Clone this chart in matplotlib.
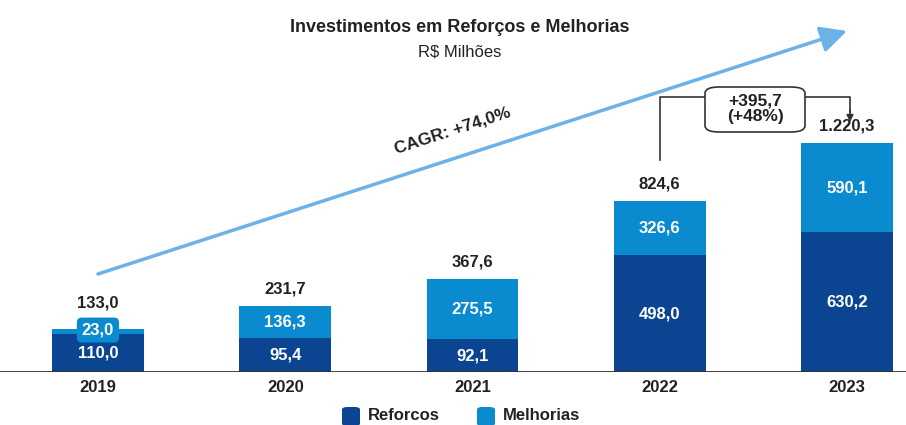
import numpy as np
import matplotlib
matplotlib.use("Agg")
from matplotlib import pyplot as plt
from matplotlib.patches import FancyBboxPatch, FancyArrowPatch

plt.rcParams['font.family'] = ['Liberation Sans', 'DejaVu Sans']

# dados (R$ milhões)
anos = ['2019', '2020', '2021', '2022', '2023']
reforcos = [110.0, 95.4, 92.1, 498.0, 630.2]
melhorias = [23.0, 136.3, 275.5, 326.6, 590.1]
totais = [133.0, 231.7, 367.6, 824.6, 1220.3]
rot_reforcos = ['110,0', '95,4', '92,1', '498,0', '630,2']
rot_melhorias = ['23,0', '136,3', '275,5', '326,6', '590,1']
rot_totais = ['133,0', '231,7', '367,6', '824,6', '1.220,3']
cagr = 'CAGR: +74,0%'
delta = '+395,7\n(+48%)'

COR_REF = '#0b4592'
COR_MEL = '#0a8bcf'
COR_TXT = '#222222'
COR_SETA = '#6cb2e6'

W, H = 906, 425
fig = plt.figure(figsize=(W / 100, H / 100), dpi=100)

def fp(x, y):
    # pixel (a partir do topo) -> fração da figura
    return x / W, 1 - y / H

# escala comprimida (o gráfico original não é linear)
P = 0.75
def fwd(v):
    v = np.asarray(v, dtype=float)
    return np.sign(v) * np.abs(v) ** P
def inv(v):
    v = np.asarray(v, dtype=float)
    return np.sign(v) * np.abs(v) ** (1 / P)

base = 372
ax = fig.add_axes([0, (H - base) / H, 1, base / H])
ax.set_yscale('function', functions=(fwd, inv))
ax.set_xlim(-0.523, 4.315)
ax.set_ylim(0, float(inv(fwd(1220.3) * base / 229)))
ax.axis('off')

x = list(range(len(anos)))
ax.bar(x, reforcos, width=0.49, color=COR_REF, zorder=2)
ax.bar(x, melhorias, width=0.49, bottom=reforcos, color=COR_MEL, zorder=2)
ax.axhline(0, color='#333333', lw=1.3, zorder=3)

def meio(a, b):
    return float(inv((fwd(a) + fwd(b)) / 2))

fs = 12
for i in x:
    ax.text(i, meio(0, reforcos[i]), rot_reforcos[i], ha='center', va='center',
            color='white', fontsize=fs, fontweight='bold', zorder=5)
    if i == 0:
        # 2019: segmento pequeno, rótulo em caixa
        ax.annotate(rot_melhorias[i], (i, meio(reforcos[i], totais[i])), xytext=(0, 1),
                    textcoords='offset points', ha='center', va='center', color='white',
                    fontsize=fs, fontweight='bold', zorder=5,
                    bbox=dict(boxstyle='round,pad=0.3,rounding_size=0.3', fc=COR_MEL, ec='none'))
        off = 13
    else:
        ax.text(i, meio(reforcos[i], totais[i]), rot_melhorias[i], ha='center', va='center',
                color='white', fontsize=fs, fontweight='bold', zorder=5)
        off = 7
    ax.annotate(rot_totais[i], (i, totais[i]), xytext=(0, off), textcoords='offset points',
                ha='center', va='bottom', color=COR_TXT, fontsize=fs, fontweight='bold', zorder=5)

for i in x:
    fig.text(*fp(98 + i * 187.25, 388), anos[i], ha='center', va='center',
             color=COR_TXT, fontsize=fs, fontweight='bold')

# título
fig.text(*fp(460, 28), 'Investimentos em Reforços e Melhorias', ha='center', va='center',
         color=COR_TXT, fontsize=13, fontweight='bold')
fig.text(*fp(460, 52), 'R$ Milhões', ha='center', va='center', color=COR_TXT, fontsize=12)

# seta CAGR
fig.add_artist(FancyArrowPatch(
    fp(98, 274), fp(847, 31), transform=fig.transFigure,
    arrowstyle='-|>,head_length=10,head_width=5', color=COR_SETA, lw=2.5,
    mutation_scale=1.6, shrinkA=0, shrinkB=0))
fig.text(*fp(452, 131), cagr, ha='center', va='center', rotation=18,
         color=COR_TXT, fontsize=12.5, fontweight='bold')

# colchete 2022 -> 2023
lc = '#333333'
fig.add_artist(plt.Line2D(*zip(fp(660, 160), fp(660, 97), fp(705, 97)),
                          transform=fig.transFigure, color=lc, lw=1.2))
fig.add_artist(plt.Line2D(*zip(fp(805, 97), fp(850, 97), fp(850, 112)),
                          transform=fig.transFigure, color=lc, lw=1.2))
fig.add_artist(FancyArrowPatch(
    fp(850, 110), fp(850, 122), transform=fig.transFigure,
    arrowstyle='-|>,head_length=4,head_width=2', color=lc, lw=1.2, shrinkA=0, shrinkB=0))
x0, y0 = fp(705, 132)
x1, y1 = fp(805, 87)
fig.add_artist(FancyBboxPatch((x0, y0), x1 - x0, y1 - y0, transform=fig.transFigure,
                              boxstyle='round,pad=0,rounding_size=0.015',
                              fc='white', ec=lc, lw=1.2, zorder=4))
fig.text(*fp(755, 109), delta, ha='center', va='center', color=COR_TXT,
         fontsize=12.5, fontweight='bold', linespacing=1.05, zorder=5)

# legenda
for cx, cor, nome in [(351, COR_REF, 'Reforcos'), (486, COR_MEL, 'Melhorias')]:
    bx0, by0 = fp(cx - 9, 426)
    bx1, by1 = fp(cx + 9, 407)
    fig.add_artist(FancyBboxPatch((bx0, by0), bx1 - bx0, by1 - by0, transform=fig.transFigure,
                                  boxstyle='round,pad=0,rounding_size=0.006', fc=cor, ec='none'))
    fig.text(*fp(cx + 17, 416), nome, ha='left', va='center', color=COR_TXT,
             fontsize=fs, fontweight='bold')

fig.savefig('out.png', dpi=100)
